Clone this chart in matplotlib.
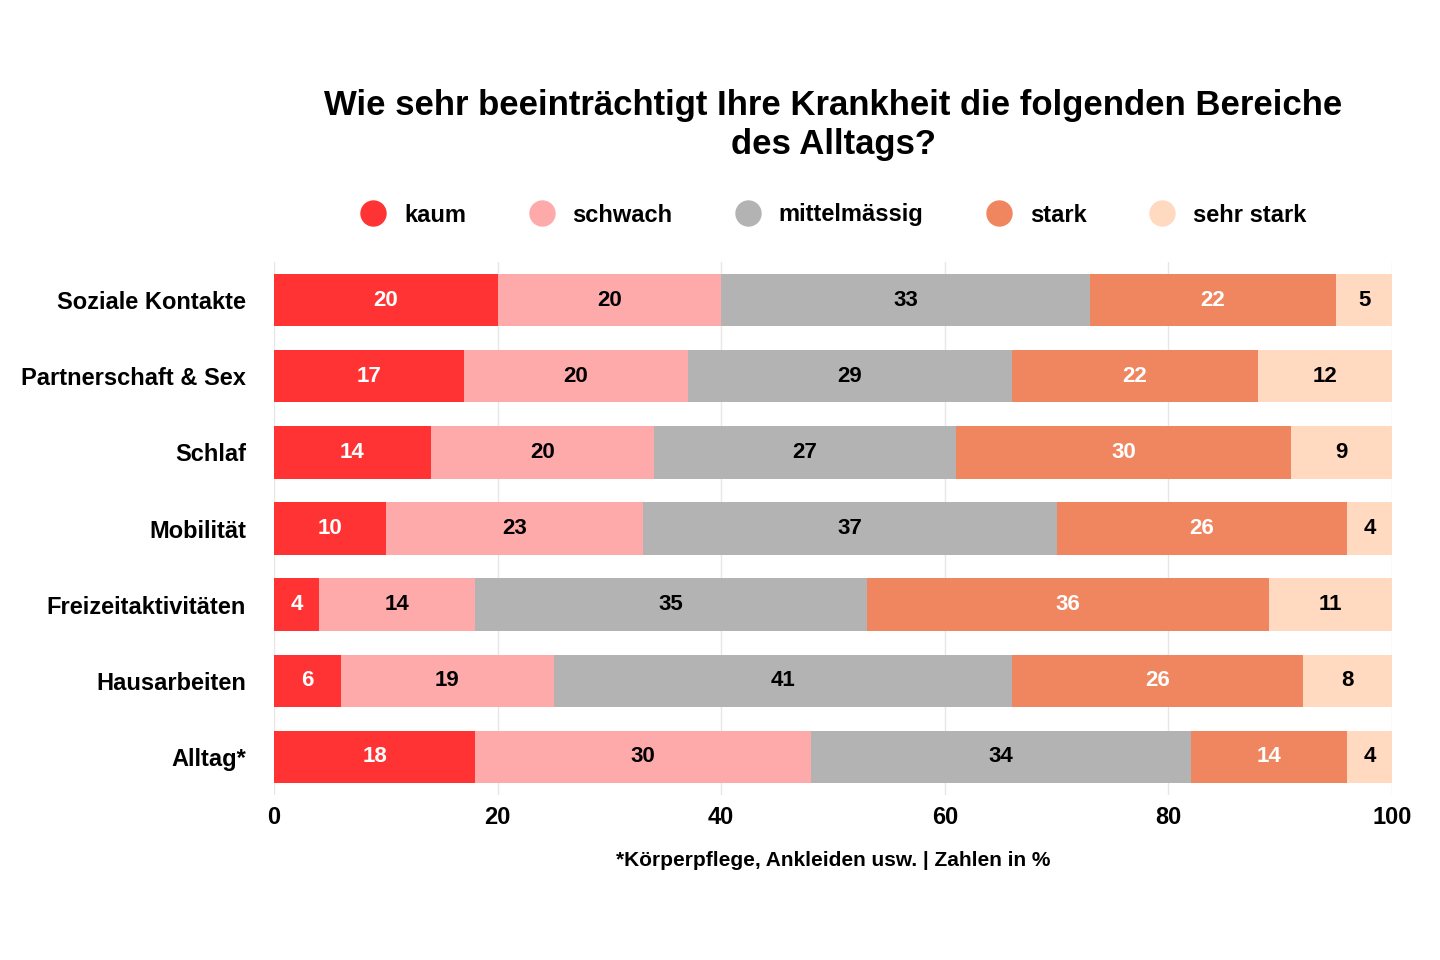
import matplotlib
matplotlib.use("Agg")
import matplotlib.pyplot as plt
from matplotlib.lines import Line2D

plt.rcParams['font.family'] = ['Liberation Sans', 'DejaVu Sans']
plt.rcParams['font.weight'] = 'bold'

categories = ["Soziale Kontakte", "Partnerschaft & Sex", "Schlaf", "Mobilität",
              "Freizeitaktivitäten", "Hausarbeiten", "Alltag*"]
series_names = ["kaum", "schwach", "mittelmässig", "stark", "sehr stark"]
kaum = [20, 17, 14, 10, 4, 6, 18]
schwach = [20, 20, 20, 23, 14, 19, 30]
mittel = [33, 29, 27, 37, 35, 41, 34]
stark = [22, 22, 30, 26, 36, 26, 14]
sehr_stark = [5, 12, 9, 4, 11, 8, 4]
series = [kaum, schwach, mittel, stark, sehr_stark]
colors = ["#FF3333", "#FFAAAA", "#B3B3B3", "#F08660", "#FFDAC0"]
text_colors = ["white", "black", "black", "white", "black"]

fig = plt.figure(figsize=(14.4, 9.6), dpi=100)
ax = fig.add_axes([274/1440, 1-795/960, (1392-274)/1440, (795-262)/960])

y = list(range(len(categories)))
left = [0]*len(categories)
for vals, c, tc in zip(series, colors, text_colors):
    ax.barh(y, vals, left=left, color=c, height=0.69, zorder=2)
    for yi, (l, v) in enumerate(zip(left, vals)):
        ax.text(l + v/2, yi, str(v), ha='center', va='center', color=tc,
                fontsize=16, fontweight='bold', zorder=3)
    left = [l + v for l, v in zip(left, vals)]

ax.set_xlim(0, 100)
ax.set_ylim(len(categories)-0.5, -0.5)
ax.set_yticks(y)
ax.set_yticklabels(categories, fontsize=17, fontweight='bold')
ax.set_xticks([0, 20, 40, 60, 80, 100])
ax.tick_params(axis='both', length=0, labelsize=17)
ax.tick_params(axis='y', pad=20)
ax.tick_params(axis='x', pad=8)
for s in ax.spines.values():
    s.set_visible(False)
ax.grid(axis='x', color='#E6E6E6', linewidth=1, zorder=0)

fig.text(833/1440, 1-125/960, "Wie sehr beeinträchtigt Ihre Krankheit die folgenden Bereiche\ndes Alltags?",
         ha='center', va='center', fontsize=25, fontweight='bold', linespacing=1.2)

handles = [Line2D([0], [0], marker='o', linestyle='', markersize=18, markerfacecolor=c,
                  markeredgecolor=c) for c in colors]
fig.legend(handles, series_names, loc='center', bbox_to_anchor=(828/1440, 1-215/960),
           ncol=5, frameon=False, fontsize=17, handletextpad=0.3, columnspacing=2.2)

fig.text(833/1440, 1-861/960, "*Körperpflege, Ankleiden usw. | Zahlen in %",
         ha='center', va='center', fontsize=15, fontweight='bold')

fig.savefig("out.png", dpi=100, facecolor='white')
